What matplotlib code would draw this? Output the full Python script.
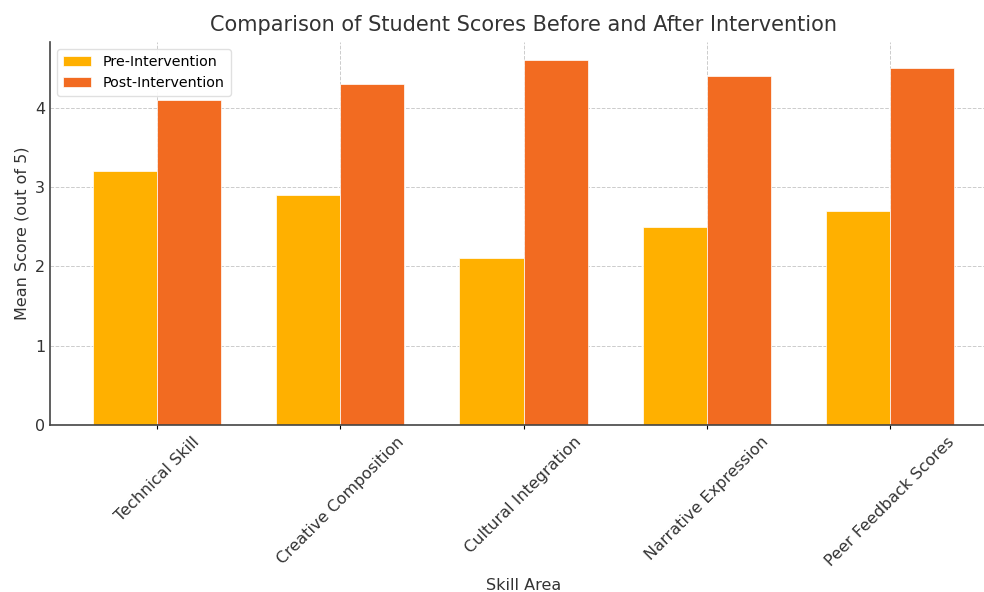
import numpy as np
import matplotlib.pyplot as plt

categories = ["Technical Skill", "Creative Composition", "Cultural Integration",
              "Narrative Expression", "Peer Feedback Scores"]
pre_scores = [3.2, 2.9, 2.1, 2.5, 2.7]
post_scores = [4.1, 4.3, 4.6, 4.4, 4.5]

x = np.arange(len(categories))
w = 0.35

fig = plt.figure(figsize=(9.84, 5.92), dpi=100)
ax = fig.add_axes([50/984, 1 - 425/592, (997 - 50)/984, (425 - 42)/592])

ax.bar(x - w/2, pre_scores, w, label="Pre-Intervention", color="#FFB000", edgecolor="white", linewidth=0.5)
ax.bar(x + w/2, post_scores, w, label="Post-Intervention", color="#F26B21", edgecolor="white", linewidth=0.5)

ax.set_xticks(x)
ax.set_xticklabels(categories, rotation=45, fontsize=11.5, color="#333333")
ax.tick_params(axis="y", labelsize=11.5, labelcolor="#333333", length=0)
ax.tick_params(axis="x", length=3)
ax.set_yticks([0, 1, 2, 3, 4])
ax.set_xlabel("Skill Area", fontsize=11.5, color="#333333", labelpad=7)
ax.set_ylabel("Mean Score (out of 5)", fontsize=11.5, color="#333333")
ax.set_title("Comparison of Student Scores Before and After Intervention", fontsize=15, color="#333333", pad=8)

ax.grid(True, linestyle="--", color="#cccccc", linewidth=0.7)
ax.set_axisbelow(True)
for s in ["top", "right"]:
    ax.spines[s].set_visible(False)
for s in ["left", "bottom"]:
    ax.spines[s].set_color("#444444")
    ax.spines[s].set_linewidth(1.2)

ax.legend(loc="upper left", fontsize=10.3, framealpha=0.9, edgecolor="#dddddd")

fig.savefig("out.png", dpi=100)
